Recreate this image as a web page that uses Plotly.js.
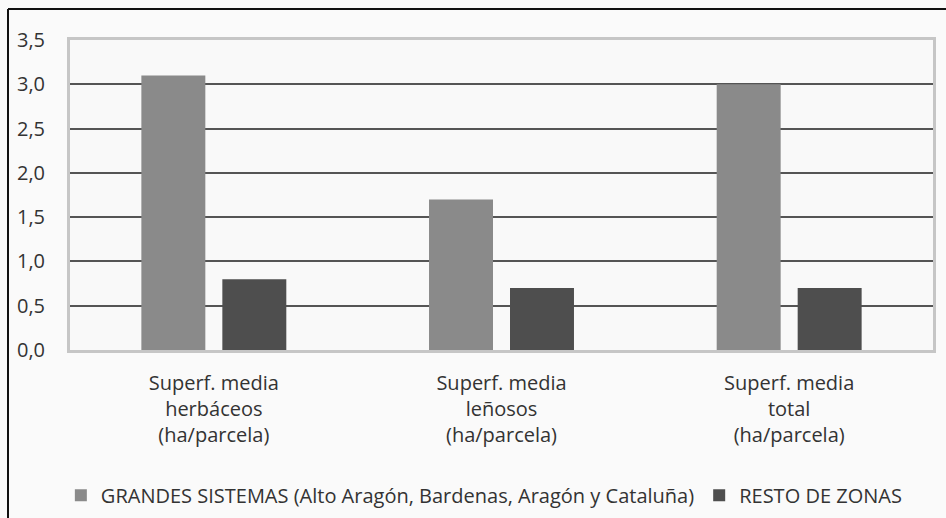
<!DOCTYPE html>
<html>
<head>
<meta charset="utf-8">
<script src="https://cdn.plot.ly/plotly-3.0.1.min.js"></script>
<style>
  html, body { margin: 0; padding: 0; background: #fafafa; }
  #chart { width: 946px; height: 518px; }
</style>
</head>
<body>
<div id="chart"></div>
<script>
const categories = [
  "Superf. media<br>herbáceos<br>(ha/parcela)",
  "Superf. media<br>leñosos<br>(ha/parcela)",
  "Superf. media<br>total<br>(ha/parcela)"
];
const seriesNames = [
  "GRANDES SISTEMAS (Alto Aragón, Bardenas, Aragón y Cataluña)",
  "RESTO DE ZONAS"
];
const grandesSistemas = [3.1, 1.7, 3.0];
const restoZonas = [0.8, 0.7, 0.7];
const yTicks = [0, 0.5, 1, 1.5, 2, 2.5, 3, 3.5];

const FONT = "'Open Sans', 'Liberation Sans', sans-serif";
const TXT = "#333333";

const traces = [
  { type: "bar", name: seriesNames[0], x: categories, y: grandesSistemas,
    marker: { color: "#8a8a8a", line: { width: 0 } }, hoverinfo: "skip" },
  { type: "bar", name: seriesNames[1], x: categories, y: restoZonas,
    marker: { color: "#4e4e4e", line: { width: 0 } }, hoverinfo: "skip" }
];

const L = 70, R = 933, T = 40, B = 350;
const W = R - L, H = B - T;
const px = v => (v - L) / W;
const py = v => (B - v) / H;

const layout = {
  width: 946, height: 518,
  margin: { l: L, r: 946 - R, t: T, b: 518 - B, pad: 0 },
  paper_bgcolor: "#fafafa",
  plot_bgcolor: "#f9f9f9",
  separators: ",.",
  barmode: "group",
  bargap: 0.437,
  bargroupgap: 0.21,
  font: { family: FONT, size: 20, color: TXT },
  xaxis: {
    type: "category",
    showline: true, mirror: true, linecolor: "#c6c6c6", linewidth: 3,
    showgrid: false, zeroline: false, ticks: "",
    ticklabelstandoff: 13,
    tickfont: { family: FONT, size: 20, color: TXT }
  },
  yaxis: {
    range: [0, 3.5], tickvals: yTicks, tickformat: ".1f",
    showline: true, mirror: true, linecolor: "#c6c6c6", linewidth: 3,
    showgrid: true, gridcolor: "#555555", gridwidth: 2,
    zeroline: false, ticks: "",
    ticklabelstandoff: 18,
    tickfont: { family: FONT, size: 20, color: TXT }
  },
  showlegend: true,
  legend: {
    orientation: "h",
    xref: "container", yref: "container",
    x: 0.512, xanchor: "center",
    y: 0.044, yanchor: "middle",
    bgcolor: "rgba(0,0,0,0)",
    font: { family: FONT, size: 20, color: TXT },
    itemclick: false, itemdoubleclick: false
  },
  shapes: [
    { type: "line", xref: "paper", yref: "paper", layer: "above",
      x0: px(8), x1: px(8), y0: py(9), y1: py(540),
      line: { color: "#111111", width: 2 } },
    { type: "line", xref: "paper", yref: "paper", layer: "above",
      x0: px(8), x1: px(960), y0: py(9), y1: py(9),
      line: { color: "#111111", width: 2 } }
  ]
};

Plotly.newPlot("chart", traces, layout, { displayModeBar: false, staticPlot: true });
</script>
</body>
</html>
